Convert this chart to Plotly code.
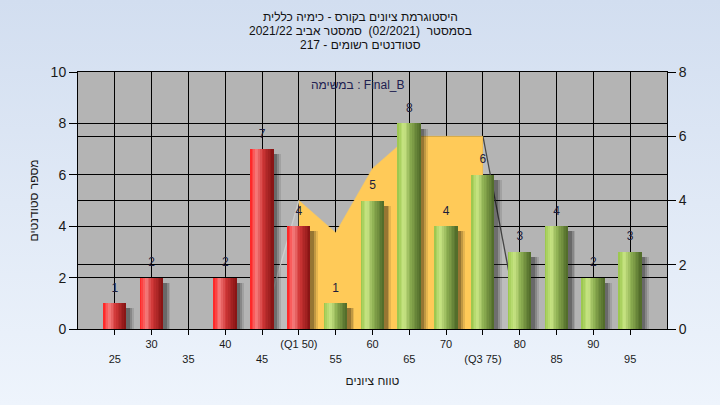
import plotly.graph_objects as go
from urllib.parse import quote

# ---------------- data ----------------
grades = [25, 30, 35, 40, 45, 50, 55, 60, 65, 70, 75, 80, 85, 90, 95]
tick_labels = ["25", "30", "35", "40", "45", "(Q1 50)", "55", "60", "65", "70",
               "(Q3 75)", "80", "85", "90", "95"]
counts = [1, 2, 0, 2, 7, 4, 1, 5, 8, 4, 6, 3, 4, 2, 3]

# distribution band (right axis)
band_x = [50, 55, 60, 65, 70, 75]
band_y = [4, 3, 5, 6, 6, 6]
left_tail_x = [45, 50]
left_tail_y = [0, 4]
right_tail_x = [75, 80]
right_tail_y = [6, 0]

title_lines = ["היסטוגרמת ציונים בקורס - כימיה כללית",
               "בסמסטר  (02/2021)  סמסטר אביב 2021/22",
               "סטודנטים רשומים - 217"]
legend_text = "במשימה : Final_B"
x_title = "טווח ציונים"
y_title = "מספר סטודנטים"
q1_grade = 50

# ---------------- styling ----------------
W, H = 720, 405
ML, MR, MT, MB = 78, 53, 72, 76
PW, PH = W - ML - MR, H - MT - MB
FONT = "Liberation Sans, DejaVu Sans, Arial, sans-serif"

bar_w = 3.1
n_strips = 14
red_stops = [(0, (255, 28, 28)), (0.28, (246, 128, 128)), (0.55, (208, 55, 55)), (1, (132, 18, 18))]
green_stops = [(0, (150, 196, 72)), (0.28, (202, 230, 134)), (0.55, (142, 176, 82)), (1, (78, 104, 40))]


def interp(stops, t):
    for (p0, c0), (p1, c1) in zip(stops[:-1], stops[1:]):
        if p0 <= t <= p1:
            f = (t - p0) / (p1 - p0)
            return "rgb(%d,%d,%d)" % tuple(round(a + (b - a) * f) for a, b in zip(c0, c1))
    return "rgb(%d,%d,%d)" % stops[-1][1]


fig = go.Figure()

# distribution areas on main (right) axis -> drawn beneath bars
fig.add_trace(go.Scatter(x=left_tail_x, y=left_tail_y, mode="lines", fill="tozeroy",
                         fillcolor="rgba(255,255,255,0.13)",
                         line=dict(color="rgb(205,205,205)", width=1.3),
                         hoverinfo="skip", yaxis="y"))
fig.add_trace(go.Scatter(x=right_tail_x, y=right_tail_y, mode="lines", fill="tozeroy",
                         fillcolor="rgba(255,255,255,0.13)",
                         line=dict(color="rgb(70,70,70)", width=1.3),
                         hoverinfo="skip", yaxis="y"))
fig.add_trace(go.Scatter(x=band_x, y=band_y, mode="lines", fill="tozeroy",
                         fillcolor="#FFCA58", line=dict(color="#FFCA58", width=0.5),
                         hoverinfo="skip", yaxis="y"))

# bar shadows (left axis)
shadow_y = [max(v - 0.2, 0) for v in counts]
for k, (shift, alpha) in enumerate([(1.0, 0.10), (0.75, 0.16), (0.5, 0.22)]):
    fig.add_trace(go.Bar(x=grades, y=shadow_y, width=bar_w, offset=-bar_w / 2 + shift,
                         marker=dict(color="rgba(0,0,0,%.2f)" % alpha, line=dict(width=0)),
                         yaxis="y2", hoverinfo="skip"))

# cylindrical bars built from thin strips
sw = bar_w / n_strips
for i in range(n_strips):
    t = (i + 0.5) / n_strips
    cols = [interp(red_stops, t) if g <= q1_grade else interp(green_stops, t) for g in grades]
    fig.add_trace(go.Bar(x=grades, y=counts, width=sw * 1.02, offset=-bar_w / 2 + i * sw,
                         marker=dict(color=cols, line=dict(width=0)),
                         yaxis="y2", hoverinfo="skip"))

# value labels
fig.add_trace(go.Scatter(x=grades, y=counts, mode="markers+text",
                         marker=dict(size=12, color="rgba(0,0,0,0)"),
                         text=[str(v) if v else "" for v in counts],
                         textposition="top center",
                         textfont=dict(family=FONT, size=12, color="#1c1c3c"),
                         yaxis="y2", hoverinfo="skip"))

# two-row tick labels
ticktext = [("\u00a0<br>" + lab) if i % 2 == 0 else lab for i, lab in enumerate(tick_labels)]

# background gradient
svg = ('<svg xmlns="http://www.w3.org/2000/svg" width="10" height="100" preserveAspectRatio="none">'
       '<defs><linearGradient id="g" x1="0" y1="0" x2="0" y2="1">'
       '<stop offset="0" stop-color="#D2DEF0"/><stop offset="1" stop-color="#EEF4FC"/>'
       '</linearGradient></defs><rect width="10" height="100" fill="url(#g)"/></svg>')
bg_src = "data:image/svg+xml;charset=utf-8," + quote(svg)

annotations = []
for line, ypx in zip(title_lines, [17, 31, 45]):
    annotations.append(dict(text=line, xref="paper", yref="paper",
                            x=(360 - ML) / PW, y=1 + (MT - ypx) / PH, showarrow=False,
                            xanchor="center", yanchor="middle",
                            font=dict(family=FONT, size=12, color="#111111")))
annotations.append(dict(text=legend_text, xref="paper", yref="paper",
                        x=(358 - ML) / PW, y=(H - MB - 85) / PH, showarrow=False,
                        xanchor="center", yanchor="middle",
                        font=dict(family=FONT, size=12, color="#202050")))

fig.update_layout(
    width=W, height=H, autosize=False,
    margin=dict(l=ML, r=MR, t=MT, b=MB, pad=0),
    paper_bgcolor="#E2EAF6", plot_bgcolor="rgba(0,0,0,0)",
    barmode="overlay", bargap=0, showlegend=False,
    font=dict(family=FONT, color="#111111"),
    images=[dict(source=bg_src, xref="paper", yref="paper",
                 x=-ML / PW, y=1 + MT / PH, sizex=W / PW, sizey=H / PH,
                 xanchor="left", yanchor="top", sizing="stretch", layer="below")],
    shapes=[dict(type="rect", xref="paper", yref="paper", x0=0, x1=1, y0=0, y1=1,
                 fillcolor="#B4B4B4", line=dict(width=0), layer="below")],
    xaxis=dict(range=[20, 100], tickmode="array", tickvals=grades, ticktext=ticktext,
               ticks="outside", ticklen=5, tickcolor="black",
               tickfont=dict(family=FONT, size=11, color="#1a1a1a"),
               showgrid=True, gridcolor="black", gridwidth=1,
               showline=True, linecolor="black", linewidth=1, mirror=True,
               zeroline=False, fixedrange=True,
               title=dict(text=x_title, font=dict(family=FONT, size=12, color="#1a1a1a"),
                          standoff=13)),
    yaxis=dict(range=[0, 8], dtick=2, side="right",
               ticks="outside", ticklen=8, tickcolor="black",
               tickfont=dict(family=FONT, size=14, color="#1a1a1a"),
               showgrid=True, gridcolor="black", gridwidth=1,
               showline=True, linecolor="black", linewidth=1,
               zeroline=False, fixedrange=True),
    yaxis2=dict(range=[0, 10], dtick=2, side="left", overlaying="y",
                ticks="outside", ticklen=8, tickcolor="black",
                tickfont=dict(family=FONT, size=14, color="#1a1a1a"),
                showgrid=True, gridcolor="black", gridwidth=1,
                showline=True, linecolor="black", linewidth=1,
                zeroline=False, fixedrange=True,
                title=dict(text=y_title, font=dict(family=FONT, size=12, color="#1a1a1a"),
                           standoff=9)),
    annotations=annotations,
)

fig.write_html("out.html", config={"displayModeBar": False},
               post_script="document.body.style.margin='0';document.body.style.overflow='hidden';")
